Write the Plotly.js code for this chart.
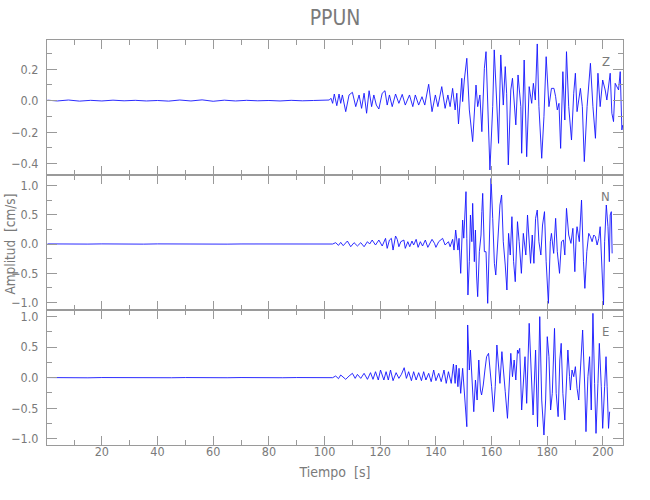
<!DOCTYPE html>
<html>
<head>
<meta charset="utf-8">
<script src="https://cdn.plot.ly/plotly-3.0.1.min.js"></script>
<style>html,body{margin:0;padding:0;background:#fff;}#chart{width:650px;height:500px;}</style>
</head>
<body>
<div id="chart"></div>
<script>
// ---- Data ----
const stationName = 'PPUN';
const componentLabels = ['Z', 'N', 'E'];
const xTickValues = [20, 40, 60, 80, 100, 120, 140, 160, 180, 200];

// Z component
const tZ = [0.5,4,8,12,16,20,24,28,32,36,40,44,48,52,56,60,64,68,72,76,80,84,88,92,96,100,
  101.7,102.3,102.9,103.5,104.4,105.2,105.8,106.4,107.6,108.8,110.0,111.2,112.4,113.3,114.2,115.1,116.0,116.9,117.7,118.6,119.5,120.7,121.7,122.5,123.3,124.3,125.5,126.7,127.9,129.0,130.5,131.7,132.6,133.8,135.0,136.0,137.4,138.6,139.8,140.7,142.1,143.3,144.3,145.1,146.0,146.9,147.5,148.1,148.7,149.3,
  149.6,150.2,151.1,152.0,153.2,154.4,155.0,155.8,156.5,157.4,158.0,158.6,159.4,160.4,160.95,161.8,162.5,163.3,164.2,164.9,165.4,166.0,166.9,167.5,168.7,169.5,170.5,170.8,171.7,172.6,173.5,174.4,175.0,175.7,176.4,177.0,178.0,178.8,179.6,180.6,181.5,182.4,183.0,183.6,184.2,184.8,185.6,186.3,186.9,187.7,188.7,189.5,190.1,190.7,191.3,191.9,192.6,193.3,194.3,195.5,196.4,197.3,198.2,199.0,199.9,200.8,201.4,202.6,203.2,203.8,204.4,205.6,206.2,206.8,207.1];
const vZ = [0.003,-0.002,0.004,-0.003,0.002,-0.002,0.003,-0.001,0.002,-0.002,0.001,-0.003,0.004,-0.002,0.005,-0.004,0.003,-0.002,0.002,-0.001,0.001,-0.002,0.002,-0.001,0.001,0,
  0.004,0.015,-0.017,0.042,-0.032,0.042,-0.017,0.036,-0.070,0.036,0.053,-0.038,0.036,-0.049,0.047,-0.080,0.063,-0.038,0.036,-0.028,-0.053,0.047,0.063,-0.028,0.036,-0.038,0.042,-0.017,0.040,-0.028,0.036,-0.038,0.036,-0.028,0.025,-0.028,0.104,-0.070,0.036,-0.038,0.089,-0.049,0.036,-0.038,0.078,-0.059,0.047,-0.148,0.004,0.142,
  -0.006,0.131,0.269,-0.059,-0.260,0.099,-0.038,0.036,-0.197,0.205,0.311,0.004,-0.440,-0.038,0.322,0.004,-0.271,0.290,-0.028,0.216,0.047,-0.408,0.068,0.142,-0.154,0.163,-0.038,-0.334,0.258,-0.356,0.089,-0.017,0.110,0.004,0.360,-0.038,-0.366,-0.102,0.279,-0.038,0.078,0.078,0.025,-0.059,-0.017,-0.303,0.184,-0.123,0.311,-0.038,-0.250,0.047,0.174,-0.070,0.025,0.078,-0.038,-0.387,-0.038,0.237,-0.038,-0.239,0.174,-0.038,0.131,0.068,0.004,0.174,-0.080,-0.133,0.110,0.068,0.184,-0.186,-0.155];

// N component
const tN = [0.5,5,10,15,20,25,30,35,40,45,50,55,60,65,70,75,80,85,90,95,100,
  102.9,104.0,105.0,105.8,106.7,108.2,109.4,110.6,111.8,113.0,114.2,115.4,116.2,117.1,118.3,119.5,120.7,121.9,122.5,123.3,124.0,124.6,125.5,126.1,126.7,127.4,128.5,129.0,129.9,130.6,131.4,132.0,132.9,133.6,134.4,135.2,136.2,137.1,138.6,139.5,140.0,141.0,142.4,143.3,144.5,145.1,146.0,146.5,147.1,147.9,148.3,148.9,149.6,150.0,
  150.6,150.8,151.1,151.5,152.0,152.4,152.9,153.2,153.8,154.2,154.6,155.0,155.6,156.2,156.5,156.8,157.4,158.0,158.6,159.2,159.8,160.4,161.0,161.5,162.4,163.0,163.6,164.2,164.9,165.5,166.1,166.7,167.3,167.9,168.5,169.3,169.9,170.7,171.4,172.3,172.9,173.5,174.0,174.6,175.2,175.8,176.4,177.0,177.7,178.3,179.0,179.6,180.4,181.1,181.5,182.3,183.0,183.6,184.4,185.1,185.8,186.3,186.9,187.7,188.5,189.2,189.9,190.4,190.7,191.5,192.3,193.0,193.5,194.2,194.9,195.5,196.1,196.7,197.3,197.9,198.5,199.0,199.6,200.2,200.6,201.2,201.8,202.3,202.6,203.0,203.3];
const vN = [0.002,-0.002,0.002,-0.001,0.002,-0.002,0.001,-0.002,0.002,-0.001,0.001,-0.002,0.002,-0.002,0.001,-0.001,0.002,-0.001,0.001,-0.002,0.001,
  0,0.023,-0.023,0.028,-0.028,0.051,-0.046,0.023,-0.034,0.023,-0.046,0.040,0,0.068,-0.017,0.068,-0.034,0.097,-0.074,0.068,0.097,-0.103,0.137,0.080,-0.046,0.040,0.068,-0.074,0.040,-0.046,0.051,-0.017,0.080,-0.057,0.040,-0.034,0.068,-0.057,0.080,0.011,-0.057,0.040,0.097,-0.017,0.040,-0.046,0.080,-0.103,0.239,-0.103,0.097,-0.501,0.410,0.100,
  0.581,0.895,0.097,-0.872,-0.302,0.496,0.040,0.695,-0.302,0.239,-0.530,-0.900,-0.131,0.154,0.553,0.866,-0.131,-0.131,-1.014,0.325,1.123,0.439,-0.330,-0.530,0.154,0.667,0.838,0.040,-0.359,-0.786,0.182,-0.188,0.467,-0.302,-0.644,0.382,0.040,-0.501,0.182,-0.188,0.496,-0.017,-0.330,0.154,-0.330,0.439,0.581,0.040,-0.188,0.325,0.553,-0.302,-1.014,0.040,0.182,-0.160,0.439,-0.131,-0.501,0.040,0.068,-0.188,0.610,0.154,0.011,0.268,-0.473,0.154,0.296,0.040,0.752,-0.302,-0.758,-0.131,0.182,0.125,0.040,0.154,0.125,-0.017,0.097,0.296,-0.359,-1.043,0.040,0.667,0.296,-0.302,0.496,0.553,-0.160];

// E component
const tE = [0.5,5,10,15,20,25,30,35,40,45,50,55,60,65,70,75,80,85,90,95,100,
  102.9,104.0,105.0,105.8,107.6,108.8,110.0,111.0,111.8,113.0,114.2,115.4,116.5,117.4,118.3,119.3,120.1,121.3,122.1,122.9,123.7,124.6,125.7,126.7,127.6,128.6,129.4,130.2,131.2,132.0,132.9,133.8,134.8,135.6,136.4,137.4,138.3,139.2,140.0,141.0,141.9,142.9,143.7,144.5,145.5,146.3,146.9,147.3,147.9,148.3,148.9,
  149.6,150.1,150.5,151.1,151.4,151.8,152.0,152.4,153.0,153.6,154.2,154.8,155.4,156.0,156.4,157.0,157.6,158.2,158.9,159.4,160.0,160.7,161.3,161.9,162.5,163.0,163.7,164.3,164.9,165.7,166.3,166.9,167.5,168.1,168.7,169.3,169.6,170.1,170.8,171.4,172.0,172.6,173.5,174.2,174.9,175.8,176.5,177.3,178.0,178.8,179.4,180.0,180.6,181.2,181.8,182.6,183.2,183.9,184.5,185.0,185.6,186.3,186.9,187.4,188.0,188.3,188.9,189.5,190.1,190.7,191.3,192.1,192.7,193.5,193.9,194.6,195.2,195.8,196.4,197.0,197.5,198.2,198.7,199.4,199.9,200.6,201.1,201.5,202.0,202.4];
const vE = [0.002,-0.001,0.001,-0.002,0.002,-0.001,0.002,-0.002,0.001,-0.001,0.002,-0.002,0.001,-0.001,0.002,-0.002,0.001,-0.001,0.002,-0.001,0.001,
  0,0.027,-0.016,0.044,-0.027,0.027,0.071,-0.011,0.054,-0.011,0.071,-0.027,0.082,-0.027,0.098,-0.038,0.125,-0.038,0.098,-0.038,0.125,-0.049,0.082,-0.011,0.054,0.163,-0.011,0.098,-0.049,0.098,-0.038,0.082,-0.049,0.098,-0.038,0.071,-0.065,0.125,-0.049,0.071,-0.065,0.125,-0.093,0.098,-0.093,0.223,-0.093,0.207,-0.147,0.153,-0.256,
  0.153,-0.202,-0.419,-0.801,0.861,0.398,0.125,0.452,-0.147,-0.556,-0.038,-0.365,0.289,-0.202,-0.283,-0.120,0.125,0.343,0.398,0.180,-0.147,-0.556,-0.147,0.534,0.125,-0.093,0.425,0.016,-0.229,-0.664,-0.038,0.398,0.016,0.289,-0.038,0.452,0.398,0.479,-0.528,-0.120,0.343,-0.419,0.888,0.125,-0.610,0.452,-0.801,0.997,-0.365,-0.937,-0.365,0.670,0.343,-0.528,-0.256,0.806,-0.256,-0.637,0.289,0.561,-0.256,-0.692,0.125,0.452,0.016,-0.202,0.125,0.016,0.180,-0.174,-0.365,0.234,0.779,-0.202,-0.882,0.016,0.343,-0.528,1.051,-0.093,-0.910,-0.093,0.561,-0.147,-0.828,-0.147,0.343,-0.147,-0.828,-0.556];

// ---- Styling ----
const FONT = '"DejaVu Sans Condensed", "Liberation Sans Narrow", "Liberation Sans", sans-serif';
const TXT = '#7a7a7a';
const AX = '#9a9a9a';
const lineStyle = {color: 'rgb(20,20,255)', width: 0.9};

function trace(t, v, xa, ya) {
  return {x: t, y: v, xaxis: xa, yaxis: ya, type: 'scatter', mode: 'lines', line: lineStyle, hoverinfo: 'skip'};
}
const data = [
  trace(tZ, vZ, 'x3', 'y'),
  trace(tN, vN, 'x2', 'y2'),
  trace(tE, vE, 'x', 'y3')
];

function xAxis(anchor, labels) {
  return {
    anchor: anchor, domain: [0, 1], range: [0.3, 207.2],
    tickmode: 'array', tickvals: xTickValues, ticks: 'inside', ticklen: 9, tickwidth: 1, tickcolor: AX,
    showline: true, linecolor: AX, linewidth: 1, mirror: 'ticks',
    showgrid: false, zeroline: false, showticklabels: labels,
    ticklabelstandoff: -5,
    tickfont: {family: FONT, size: 12.5, color: TXT},
    minor: {ticks: 'inside', ticklen: 5, dtick: 10, tick0: 0, tickcolor: AX, showgrid: false}
  };
}
function yAxis(anchor, domain, range, dtick, minor) {
  return {
    anchor: anchor, domain: domain, range: range,
    tick0: 0, dtick: dtick, tickformat: '.1f', ticks: 'inside', ticklen: 10, tickwidth: 1, tickcolor: AX,
    showline: true, linecolor: AX, linewidth: 1, mirror: 'ticks',
    showgrid: false, zeroline: false, ticklabelstandoff: 5,
    tickfont: {family: FONT, size: 12.5, color: TXT},
    minor: {ticks: 'inside', ticklen: 5, dtick: minor, tick0: 0, tickcolor: AX, showgrid: false}
  };
}

const xa = xAxis('y3', true);
xa.title = {text: 'Tiempo  [s]', font: {family: FONT, size: 14, color: TXT}, standoff: 9};

const layout = {
  width: 650, height: 500,
  margin: {l: 47, r: 27, t: 40, b: 55},
  paper_bgcolor: '#fff', plot_bgcolor: '#fff',
  showlegend: false,
  font: {family: FONT, color: TXT, size: 13},
  title: {text: stationName, x: 0.5, xref: 'paper', y: 1 - 18/500, yanchor: 'middle',
          font: {family: FONT, size: 21, color: TXT, weight: 300}},
  xaxis: xa,
  xaxis2: xAxis('y2', false),
  xaxis3: xAxis('y', false),
  yaxis: yAxis('x3', [2/3, 1], [-0.472, 0.385], 0.2, 0.1),
  yaxis2: yAxis('x2', [1/3, 2/3], [-1.128, 1.18], 0.5, 0.25),
  yaxis3: yAxis('x', [0, 1/3], [-1.10, 1.106], 0.5, 0.25),
  annotations: [
    {text: 'Amplitud  [cm/s]', xref: 'paper', yref: 'paper', x: -37/576, y: 0.495, textangle: -90,
     xanchor: 'center', yanchor: 'middle', showarrow: false, font: {family: FONT, size: 13.5, color: TXT}},
    {text: componentLabels[0], xref: 'x3', yref: 'y', x: 201, y: 0.246, showarrow: false, font: {family: FONT, size: 13, color: TXT}},
    {text: componentLabels[1], xref: 'x2', yref: 'y2', x: 201, y: 0.82, showarrow: false, font: {family: FONT, size: 13, color: TXT}},
    {text: componentLabels[2], xref: 'x', yref: 'y3', x: 201, y: 0.75, showarrow: false, font: {family: FONT, size: 13, color: TXT}}
  ]
};

Plotly.newPlot('chart', data, layout, {displayModeBar: false, staticPlot: true});
</script>
</body>
</html>
